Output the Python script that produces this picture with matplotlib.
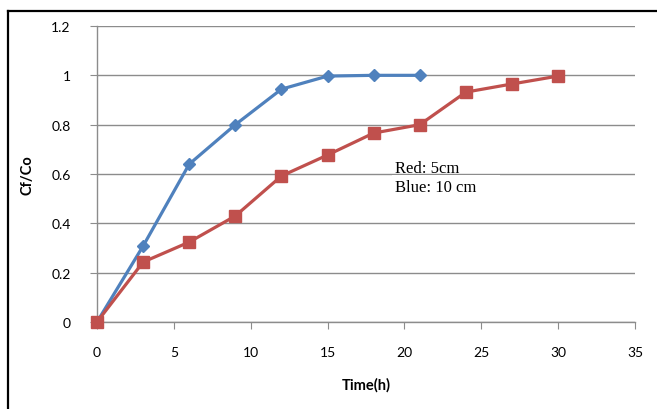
import matplotlib
matplotlib.use('Agg')
import matplotlib.pyplot as plt
from matplotlib.lines import Line2D
from matplotlib.patches import Rectangle

# data
time_blue = [0, 3, 6, 9, 12, 15, 18, 21]
cf_blue = [0, 0.308, 0.64, 0.80, 0.944, 0.997, 1.0, 1.0]
time_red = [0, 3, 6, 9, 12, 15, 18, 21, 24, 27, 30]
cf_red = [0, 0.243, 0.324, 0.43, 0.592, 0.677, 0.766, 0.80, 0.932, 0.965, 0.997]
xticks = [0, 5, 10, 15, 20, 25, 30, 35]
yticks = [0, 0.2, 0.4, 0.6, 0.8, 1, 1.2]
ytick_labels = ['0', '0.2', '0.4', '0.6', '0.8', '1', '1.2']

GRID = '#8c8c8c'
BLUE = '#4F81BD'
RED = '#C0504D'
TICKFONT = 'Lato'

fig = plt.figure(figsize=(6.57, 4.10), dpi=100)
ax = fig.add_axes([97/657, 1 - 323/410, (635 - 97)/657, (323 - 27)/410])

ax.plot(time_blue, cf_blue, color=BLUE, lw=2.3, marker='D', ms=6.5, zorder=3)
ax.plot(time_red, cf_red, color=RED, lw=2.3, marker='s', ms=8.5, zorder=4)

ax.set_xlim(0, 35)
ax.set_ylim(0, 1.2)
ax.set_xticks(xticks)
ax.set_yticks(yticks)
ax.set_xticklabels([str(v) for v in xticks], fontfamily=TICKFONT, fontsize=10)
ax.set_yticklabels(ytick_labels, fontfamily=TICKFONT, fontsize=10)
ax.tick_params(axis='x', direction='out', length=5, color=GRID, pad=12)
ax.tick_params(axis='y', direction='out', length=5, color=GRID, pad=14)
ax.yaxis.grid(True, color=GRID, lw=1)
ax.set_axisbelow(True)
for s in ['top', 'right']:
    ax.spines[s].set_visible(False)
for s in ['left', 'bottom']:
    ax.spines[s].set_color(GRID)
    ax.spines[s].set_linewidth(1)
ax.margins(0)
for line in ax.lines:
    line.set_clip_on(False)

ax.set_xlabel('Time(h)', fontfamily=TICKFONT, fontweight='bold', fontsize=10.5, labelpad=14)
ax.set_ylabel('Cf/Co', fontfamily=TICKFONT, fontweight='bold', fontsize=10.5, labelpad=12)

# white text box (the 0.6 gridline still shows at its top edge)
ax.add_patch(Rectangle((19.2, 0.404), 7.0, 0.19, facecolor='white', edgecolor='none', zorder=2.5))
ax.text(19.4, 0.655, 'Red: 5cm\nBlue: 10 cm', fontfamily='Liberation Serif', fontsize=12,
        va='top', ha='left', linespacing=1.25, zorder=5)

# outer frame (left and top edges visible)
fig.add_artist(Line2D([8/657, 8/657], [0, 1 - 12/410], transform=fig.transFigure, color='black', lw=1.6))
fig.add_artist(Line2D([8/657, 1], [1 - 12/410, 1 - 12/410], transform=fig.transFigure, color='black', lw=1.6))

fig.savefig('out.png', dpi=100)
